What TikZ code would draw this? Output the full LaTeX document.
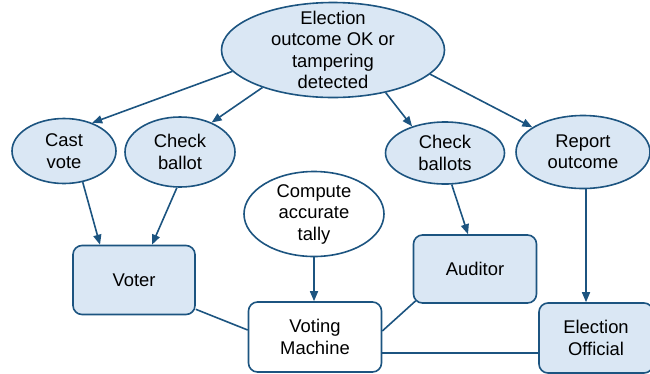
\documentclass[tikz,border=0pt]{standalone}
\usepackage{fontspec}
\setmainfont{Liberation Sans}
\usetikzlibrary{arrows.meta,shapes.geometric}
\definecolor{edgeblue}{RGB}{28,84,128}
\definecolor{paleblue}{RGB}{218,231,244}
\begin{document}
\begin{tikzpicture}[x=1pt,y=-1pt,
  every node/.style={font=\fontsize{18.4}{21.5}\selectfont},
  txt/.style={align=center,inner sep=0pt,text=black},
  oval/.style={ellipse,draw=edgeblue,line width=1.6pt,fill=paleblue,inner sep=0pt},
  actor/.style={rectangle,rounded corners=9pt,draw=edgeblue,line width=1.6pt,fill=paleblue,inner sep=0pt,align=center},
  link/.style={draw=edgeblue,line width=1.6pt},
  goal/.style={link,-{Triangle[length=10pt,width=8pt]}}]
\useasboundingbox (0,0) rectangle (650,373);

% goals
\node[oval,minimum width=223pt,minimum height=95pt,
  label={[txt]center:Election\\outcome OK or\\tampering\\detected}] (top) at (333,50) {};
\node[oval,minimum width=104pt,minimum height=65pt,
  label={[txt]center:Cast\\vote}] (cast) at (64,151) {};
\node[oval,minimum width=110pt,minimum height=70pt,
  label={[txt]center:Check\\ballot}] (chk) at (180,152) {};
\node[oval,minimum width=119pt,minimum height=62pt,
  label={[txt]center:Check\\ballots}] (chks) at (445,153) {};
\node[oval,minimum width=134pt,minimum height=73pt,
  label={[txt]center:Report\\outcome}] (rep) at (583,152) {};
\node[oval,fill=white,minimum width=140pt,minimum height=85pt,
  label={[txt]center:Compute\\accurate\\tally}] (tally) at (314,214) {};

% actors
\node[actor,minimum width=122pt,minimum height=69pt] (voter) at (134,280) {Voter};
\node[actor,minimum width=123pt,minimum height=68pt] (aud) at (475,269) {Auditor};
\node[actor,fill=white,minimum width=133pt,minimum height=70pt] (vm) at (315,337) {Voting\\Machine};
\node[actor,minimum width=114pt,minimum height=70pt] (eo) at (596,338) {Election\\Official};

% decomposition arrows
\draw[goal] (top.192) -- (cast.45);
\draw[goal] (top.208) -- (chk.43);
\draw[goal] (top.-39) -- (chks.141);
\draw[goal] (top.-14) -- (rep.154);
\draw[goal] (cast.-59) -- ([xshift=-34pt]voter.north);
\draw[goal] (chk.-95) -- ([xshift=18pt]voter.north);
\draw[goal] (tally.south) -- (tally.south |- vm.north);
\draw[goal] (chks.-78) -- ([xshift=-7pt]aud.north);
\coordinate (repfoot) at ([xshift=3pt]rep.south);
\draw[goal] (repfoot) -- (repfoot |- eo.north);

% dependencies between actors
\coordinate (vmhi) at ([yshift=7pt]vm.west);
\coordinate (vmmid) at ([yshift=6pt]vm.east);
\coordinate (vmlow) at ([yshift=-16pt]vm.east);
\draw[link] ([yshift=6pt]voter.south east) -- (vmhi);
\draw[link] ([xshift=3pt,yshift=3pt]aud.south west) -- (vmmid);
\draw[link] (vmlow) -- (vmlow -| eo.west);
\end{tikzpicture}
\end{document}
